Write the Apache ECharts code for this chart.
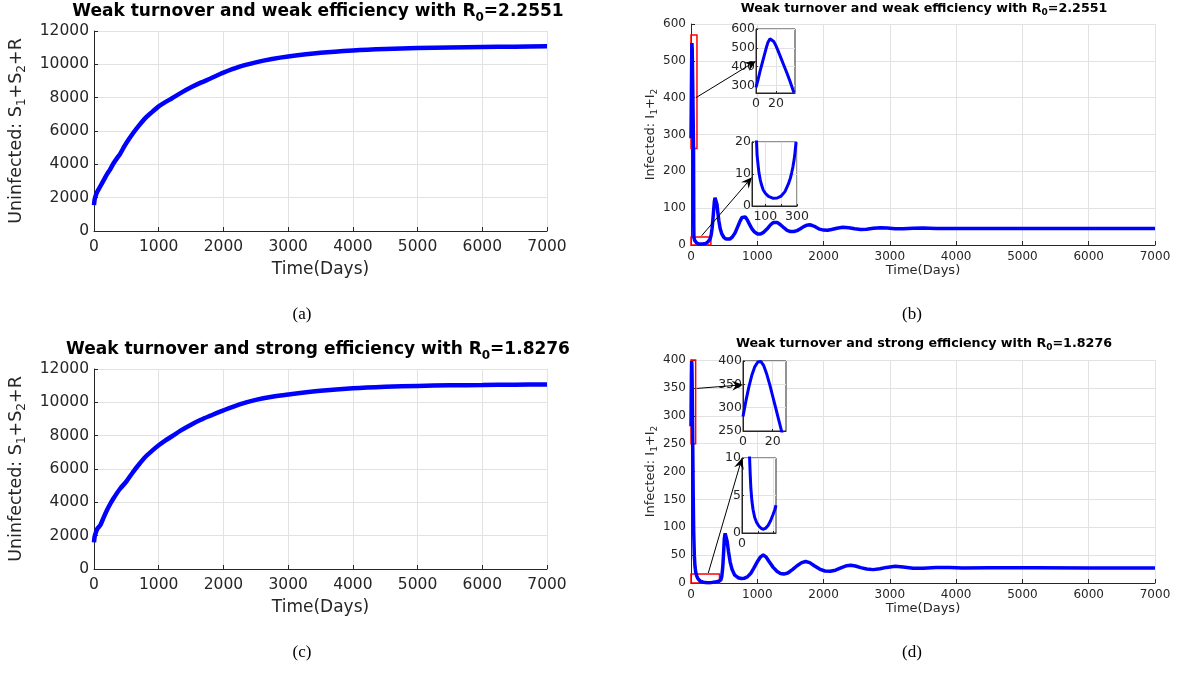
<!DOCTYPE html>
<html><head><meta charset="utf-8">
<script src="https://cdn.jsdelivr.net/npm/echarts@6/dist/echarts.min.js"></script>
<style>html,body{margin:0;padding:0;background:#fff}#c{width:1178px;height:673px}</style>
</head><body><div id="c"></div>
<script>
// ---------- data ----------
const daysA = [0, 10, 25, 50, 100, 150, 200, 250, 300, 370, 400, 450, 500, 600, 700, 800, 900, 1000, 1100, 1200, 1350, 1500, 1650, 1800, 2000, 2250, 2500, 2750, 3000, 3500, 4000, 4500, 5000, 5500, 6000, 6500, 7000];
const uninfA = [1550, 1900, 2100, 2350, 2700, 3050, 3400, 3700, 4050, 4450, 4600, 4950, 5280, 5850, 6350, 6800, 7150, 7480, 7730, 7950, 8300, 8620, 8900, 9150, 9500, 9860, 10120, 10320, 10470, 10690, 10830, 10920, 10975, 11010, 11040, 11060, 11080];

const daysC = [0, 10, 25, 50, 100, 150, 200, 250, 300, 400, 500, 600, 700, 800, 900, 1000, 1100, 1200, 1350, 1500, 1650, 1800, 2000, 2250, 2500, 2750, 3000, 3500, 4000, 4500, 5000, 5500, 6000, 6500, 7000];
const uninfC = [1600, 1950, 2150, 2400, 2650, 3100, 3530, 3900, 4230, 4800, 5250, 5800, 6300, 6750, 7100, 7420, 7700, 7950, 8330, 8660, 8950, 9200, 9520, 9880, 10150, 10340, 10470, 10690, 10840, 10930, 10985, 11020, 11040, 11060, 11070];

const daysB = [0, 2, 4, 6, 8, 10, 12, 14, 16, 18, 20, 22, 25, 28, 31, 34, 37, 38, 40, 42, 44, 48, 54, 60, 68, 75, 87, 100, 120, 150, 175, 200, 224, 245, 258, 266, 274, 282, 288, 294, 305, 318, 330, 342, 352, 362, 372, 382, 392, 405, 420, 440, 465, 495, 530, 560, 590, 625, 665, 705, 740, 770, 795, 820, 850, 885, 920, 960, 1005, 1050, 1100, 1150, 1200, 1240, 1270, 1305, 1350, 1400, 1450, 1500, 1550, 1600, 1650, 1700, 1750, 1790, 1830, 1880, 1940, 2000, 2060, 2120, 2200, 2290, 2380, 2470, 2560, 2650, 2750, 2860, 2960, 3080, 3200, 3350, 3500, 3700, 4000, 5000, 6000, 7000];
const infB = [290, 330, 375, 415, 455, 495, 530, 548, 547, 532, 510, 485, 445, 405, 365, 322, 276, 262, 160, 50, 21, 16, 13, 10.3, 8.2, 6.8, 5, 4, 3, 2.4, 2.5, 3.1, 4.5, 6.8, 8.7, 10.3, 12.2, 14.5, 17, 20, 28, 45, 68, 95, 117, 128, 131, 125, 110, 88, 66, 45, 30, 21, 16, 15, 16.5, 22, 33, 50, 65, 75, 78, 76, 68, 55, 44, 35, 30, 30, 35, 44, 55, 61, 63, 61, 55, 47, 40, 36.5, 36.5, 39, 44, 50, 54, 55, 53, 49, 43, 40.5, 40, 42, 45.5, 48, 47, 44, 42, 43, 45.5, 47, 46, 44, 44, 45.5, 46, 45, 45, 45, 45, 45];

const daysD = [0, 2, 4, 6, 8, 10, 11, 12, 14, 16, 18, 20, 22, 24, 26, 28, 32, 40, 50, 60, 72, 85, 96, 104, 112, 125, 140, 160, 185, 215, 245, 273, 300, 330, 360, 390, 415, 430, 450, 465, 480, 492, 503, 515, 528, 545, 565, 590, 620, 660, 710, 760, 800, 850, 900, 950, 1000, 1050, 1090, 1130, 1180, 1240, 1300, 1350, 1400, 1460, 1530, 1600, 1670, 1730, 1790, 1860, 1940, 2020, 2100, 2180, 2270, 2350, 2410, 2480, 2560, 2650, 2750, 2850, 2950, 3080, 3200, 3350, 3500, 3700, 3900, 4100, 4500, 5200, 6000, 7000];
const infD = [281, 315, 345, 370, 388, 398, 400, 399, 390, 372, 350, 325, 300, 275, 250, 225, 170, 95, 50, 30, 19, 13, 10, 7.8, 6, 4.3, 3.1, 2.1, 1.4, 0.9, 0.6, 0.5, 0.65, 1.0, 1.6, 2.4, 3.1, 3.7, 5.5, 12, 30, 55, 80, 89, 87, 75, 57, 38, 24, 14, 9.5, 8, 8.3, 11, 17, 27, 38, 47, 50.5, 47, 38, 28, 20.5, 17, 16, 18, 24, 31, 36.5, 38.5, 36.5, 31, 25, 21.5, 21, 23, 27.5, 31, 32, 30.5, 27.5, 25, 24, 25.5, 28, 30, 28.5, 26.5, 26.5, 28, 28, 27, 27.5, 27.5, 27, 27];

const titleA = 'Weak turnover and weak efficiency with R{s|0}=2.2551';
const titleC = 'Weak turnover and strong efficiency with R{s|0}=1.8276';
const captions = ['(a)', '(b)', '(c)', '(d)'];
const yNameUninf = 'Uninfected: S{s|1}+S{s|2}+R';
const yNameInf = 'Infected: I{s|1}+I{s|2}';
const xName = 'Time(Days)';

// inset (zoom) axis windows: [xMin, xMax, yMin, yMax]
const insetWindows = [[0, 39, 260, 600], [16, 300, 0, 20], [0, 29, 250, 400], [0, 430, 0, 10]];
const insetXTicks = [[0, 20], [100, 200, 300], [0, 20], [0, 200, 400]];
const insetXLabels = [[0, 20], [100, 300], [0, 20], [0]];
const insetYTicks = [[300, 400, 500, 600], [0, 10, 20], [250, 300, 350, 400], [0, 5, 10]];
// red zoom boxes in the main plots (data space): [xMin, xMax, yMin, yMax]
const boxesB = [[0, 90, 262, 570], [0, 300, 0, 22]];
const boxesD = [[0, 70, 250, 405], [0, 430, 0, 16]];
// arrows: [fromGrid, fromX, fromY, toGrid, toX, toY]
const arrows = [
  [2, 75, 400, 4, 0, 430],
  [2, 160, 25, 5, 16, 9],
  [3, 86, 349, 6, 0, 349],
  [3, 261, 18, 7, 0, 10]
];

// ---------- styling ----------
const FONT = 'DejaVu Sans';
const INK = '#262626';
const GRIDC = '#e2e2e2';
const BLUE = '#0000ff';
const zip = (t, v) => t.map((x, i) => [x, v[i]]);
const plain = v => String(v);

function rich(size, weight, color) {
  return {
    n: {fontFamily: FONT, fontSize: size, fontWeight: weight, color: color},
    s: {fontFamily: FONT, fontSize: Math.round(size * 0.7), fontWeight: weight, color: color,
        verticalAlign: 'bottom', padding: [Math.round(size * 0.65), 0, 0, 0]}
  };
}
const fmt = t => '{n|' + t.replace(/\{s\|(\d)\}/g, '}{s|$1}{n|') + '}';

function xAxis(gi, fs, nfs, gap, margin) {
  return {
    type: 'value', gridIndex: gi, min: 0, max: 7000, interval: 1000,
    name: xName, nameLocation: 'middle', nameGap: gap,
    nameTextStyle: {color: INK, fontFamily: FONT, fontSize: nfs},
    axisLine: {show: true, onZero: false, lineStyle: {color: INK, width: 1}},
    axisTick: {show: true, inside: true, length: 4, lineStyle: {color: INK}},
    axisLabel: {color: INK, fontFamily: FONT, fontSize: fs, margin: margin, formatter: plain},
    splitLine: {show: true, lineStyle: {color: GRIDC, width: 1}}
  };
}
function yAxis(gi, fs, nfs, gap, name, min, max, interval) {
  return {
    type: 'value', gridIndex: gi, min: min, max: max, interval: interval,
    name: fmt(name), nameLocation: 'middle', nameGap: gap, nameRotate: 90,
    nameTextStyle: {color: INK, fontFamily: FONT, fontSize: nfs, rich: rich(nfs, 'normal', INK)},
    axisLine: {show: true, onZero: false, lineStyle: {color: INK, width: 1}},
    axisTick: {show: true, inside: true, length: 4, lineStyle: {color: INK}},
    axisLabel: {color: INK, fontFamily: FONT, fontSize: fs, margin: 5, formatter: plain},
    splitLine: {show: true, lineStyle: {color: GRIDC, width: 1}}
  };
}
function insetAxis(dim, gi, min, max, ticks, labels) {
  return {
    type: 'value', gridIndex: gi, min: min, max: max, z: 4,
    axisLine: {show: true, onZero: false, lineStyle: {color: INK, width: 1}},
    axisTick: {show: true, inside: true, length: 2, lineStyle: {color: INK}, customValues: ticks},
    axisLabel: {color: INK, fontFamily: FONT, fontSize: 12.5, margin: dim === 'x' ? 4 : 1,
                customValues: labels, showMinLabel: true, showMaxLabel: true, hideOverlap: false, formatter: plain},
    splitLine: {show: true, lineStyle: {color: GRIDC, width: 1}}
  };
}

const grids = [
  {left: 94, top: 31, width: 453, height: 200},    // a
  {left: 94, top: 369, width: 453, height: 200},   // c
  {left: 691, top: 24, width: 464, height: 221},   // b
  {left: 691, top: 360, width: 464, height: 223},  // d
  {left: 756, top: 29, width: 39, height: 64, inset: true},   // b zoom 1
  {left: 752, top: 142, width: 45, height: 64, inset: true},  // b zoom 2
  {left: 743, top: 361, width: 43, height: 70, inset: true},  // d zoom 1
  {left: 742, top: 458, width: 34, height: 75, inset: true}   // d zoom 2
].map(g => {
  const o = {left: g.left, top: g.top, width: g.width, height: g.height, outerBoundsMode: 'none', containLabel: false};
  if (g.inset) Object.assign(o, {show: true, z: 3, backgroundColor: '#ffffff', borderColor: INK, borderWidth: 1});
  return o;
});

const xAxes = [xAxis(0, 15.5, 17, 30, 8), xAxis(1, 15.5, 17, 30, 8), xAxis(2, 12, 13, 19, 6), xAxis(3, 12, 13, 19, 6)];
const yAxes = [
  yAxis(0, 15.5, 17.5, 66, yNameUninf, 0, 12000, 2000),
  yAxis(1, 15.5, 17.5, 66, yNameUninf, 0, 12000, 2000),
  yAxis(2, 12, 13, 31, yNameInf, 0, 600, 100),
  yAxis(3, 12, 13, 31, yNameInf, 0, 400, 50)
];
insetWindows.forEach((w, k) => {
  xAxes.push(insetAxis('x', 4 + k, w[0], w[1], insetXTicks[k], insetXLabels[k]));
  yAxes.push(insetAxis('y', 4 + k, w[2], w[3], insetYTicks[k], insetYTicks[k]));
});

function boxArea(boxes) {
  return {
    silent: true,
    itemStyle: {color: 'rgba(0,0,0,0)', borderColor: '#ff0000', borderWidth: 1.5},
    data: boxes.map(b => [{coord: [b[0], b[2]]}, {coord: [b[1], b[3]]}])
  };
}
function line(gi, data, w, extra) {
  return Object.assign({
    type: 'line', xAxisIndex: gi, yAxisIndex: gi, data: data, showSymbol: false, symbol: 'none',
    clip: true, smooth: false, lineStyle: {color: BLUE, width: w}, z: gi >= 4 ? 5 : 2, silent: true
  }, extra || {});
}

const dataA = zip(daysA, uninfA), dataC = zip(daysC, uninfC);
const dataB = zip(daysB, infB), dataD = zip(daysD, infD);
// an inset shows the same series restricted to its time window
const inWindow = (data, k) => data.filter(p => p[0] >= insetWindows[k][0] && p[0] <= insetWindows[k][1]);

const series = [
  line(0, dataA, 4.5, {smooth: 0.3}), line(1, dataC, 4.5, {smooth: 0.3}),
  line(2, dataB, 3.5, {markArea: boxArea(boxesB)}),
  line(3, dataD, 3.5, {markArea: boxArea(boxesD)}),
  line(4, inWindow(dataB, 0), 3), line(5, inWindow(dataB, 1), 3),
  line(6, inWindow(dataD, 2), 3), line(7, inWindow(dataD, 3), 3)
];

function textEl(txt, x, y, size, weight) {
  return {
    type: 'text', x: x, y: y, z: 20, silent: true,
    style: {text: fmt(txt), fill: '#000', fontFamily: FONT, fontSize: size, fontWeight: weight,
            align: 'center', verticalAlign: 'middle', rich: rich(size, weight, '#000')}
  };
}
const graphics = [
  textEl(titleA, 318, 12, 17, 'bold'),
  textEl(titleA, 924, 9, 12.7, 'bold'),
  textEl(titleC, 318, 350, 17, 'bold'),
  textEl(titleC, 924, 344, 12.7, 'bold')
];
const capPos = [[302, 315], [912, 315], [302, 653], [912, 653]];
captions.forEach((c, i) => graphics.push({
  type: 'text', x: capPos[i][0], y: capPos[i][1], z: 20, silent: true,
  style: {text: c, fill: '#000', fontFamily: 'Liberation Serif', fontSize: 17, align: 'center', verticalAlign: 'middle'}
}));

const chart = echarts.init(document.getElementById('c'), null, {renderer: 'canvas'});
chart.setOption({
  animation: false, backgroundColor: '#fff',
  grid: grids, xAxis: xAxes, yAxis: yAxes, series: series, graphic: graphics
});

// arrows between main plots and zoom insets, positioned through the axes
const arrowEls = [];
arrows.forEach(a => {
  const p0 = chart.convertToPixel({gridIndex: a[0]}, [a[1], a[2]]);
  const p1 = chart.convertToPixel({gridIndex: a[3]}, [a[4], a[5]]);
  const dx = p1[0] - p0[0], dy = p1[1] - p0[1];
  const L = Math.hypot(dx, dy), ux = dx / L, uy = dy / L, nx = -uy, ny = ux;
  const hl = 11, hw = 5;
  const base = [p1[0] - ux * hl, p1[1] - uy * hl];
  const notch = [p1[0] - ux * hl * 0.65, p1[1] - uy * hl * 0.65];
  arrowEls.push({type: 'line', z: 30, silent: true,
    shape: {x1: p0[0], y1: p0[1], x2: notch[0], y2: notch[1]},
    style: {stroke: '#000', lineWidth: 1}});
  arrowEls.push({type: 'polygon', z: 30, silent: true,
    shape: {points: [p1, [base[0] + nx * hw, base[1] + ny * hw], notch, [base[0] - nx * hw, base[1] - ny * hw]]},
    style: {fill: '#000'}});
});
chart.setOption({graphic: graphics.concat(arrowEls)});
</script>
</body></html>
